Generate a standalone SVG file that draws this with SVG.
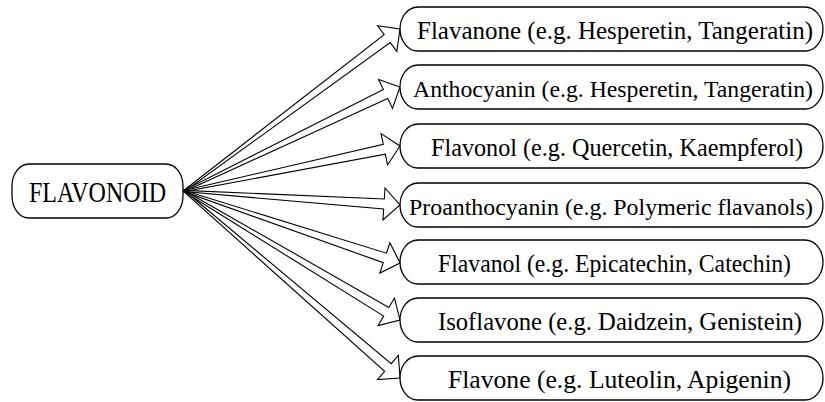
<svg xmlns="http://www.w3.org/2000/svg" width="825" height="402" viewBox="0 0 825 402">
<style>
.box{fill:#fff;stroke:#000;stroke-width:1.3}
.arr{fill:#fff;stroke:#000;stroke-width:1.1;stroke-linejoin:miter}
</style>
<rect width="825" height="402" fill="#fff"/>
<g id="connectors">
<path class="arr" transform="translate(184,191) rotate(-36.87)" d="M0,-0.6 L254,-5 L254,-16 L270,0 L254,16 L254,5 L0,0.6 Z"/>
<path class="arr" transform="translate(184,191) rotate(-25.71)" d="M0,-0.6 L223.7,-5 L223.7,-16 L239.7,0 L223.7,16 L223.7,5 L0,0.6 Z"/>
<path class="arr" transform="translate(184,191) rotate(-11.77)" d="M0,-0.6 L204.6,-5 L204.6,-16 L220.6,0 L204.6,16 L204.6,5 L0,0.6 Z"/>
<path class="arr" transform="translate(184,191) rotate(3.71)" d="M0,-0.6 L200.4,-5 L200.4,-16 L216.4,0 L200.4,16 L200.4,5 L0,0.6 Z"/>
<path class="arr" transform="translate(184,191) rotate(18.43)" d="M0,-0.6 L211.7,-5 L211.7,-16 L227.7,0 L211.7,16 L211.7,5 L0,0.6 Z"/>
<path class="arr" transform="translate(184,191) rotate(30.85)" d="M0,-0.6 L235.6,-5 L235.6,-16 L251.6,0 L235.6,16 L235.6,5 L0,0.6 Z"/>
<path class="arr" transform="translate(184,191) rotate(40.88)" d="M0,-0.6 L269.7,-5 L269.7,-16 L285.7,0 L269.7,16 L269.7,5 L0,0.6 Z"/>
</g>
<g id="flavonoid">
<rect class="box" x="12" y="164" width="171" height="54" rx="17" ry="22"/>
<text x="29" y="202" font-family="Liberation Serif" font-size="29" textLength="137" lengthAdjust="spacingAndGlyphs">FLAVONOID</text>
</g>
<g id="flavanone">
<rect class="box" x="400" y="7" width="423" height="44" rx="18" ry="22"/>
<text x="417" y="38.5" font-family="Liberation Serif" font-size="25" textLength="396" lengthAdjust="spacingAndGlyphs">Flavanone (e.g. Hesperetin, Tangeratin)</text>
</g>
<g id="anthocyanin">
<rect class="box" x="400" y="65" width="423" height="44" rx="18" ry="22"/>
<text x="413" y="96.5" font-family="Liberation Serif" font-size="24" textLength="400" lengthAdjust="spacingAndGlyphs">Anthocyanin (e.g. Hesperetin, Tangeratin)</text>
</g>
<g id="flavonol">
<rect class="box" x="400" y="124" width="423" height="44" rx="18" ry="22"/>
<text x="431" y="155.5" font-family="Liberation Serif" font-size="25" textLength="372" lengthAdjust="spacingAndGlyphs">Flavonol (e.g. Quercetin, Kaempferol)</text>
</g>
<g id="proanthocyanin">
<rect class="box" x="400" y="183" width="423" height="44" rx="18" ry="22"/>
<text x="409" y="214.5" font-family="Liberation Serif" font-size="24" textLength="404" lengthAdjust="spacingAndGlyphs">Proanthocyanin (e.g. Polymeric flavanols)</text>
</g>
<g id="flavanol">
<rect class="box" x="400" y="240" width="423" height="44" rx="18" ry="22"/>
<text x="438" y="271.5" font-family="Liberation Serif" font-size="25" textLength="353" lengthAdjust="spacingAndGlyphs">Flavanol (e.g. Epicatechin, Catechin)</text>
</g>
<g id="isoflavone">
<rect class="box" x="400" y="298" width="423" height="44" rx="18" ry="22"/>
<text x="438" y="329.5" font-family="Liberation Serif" font-size="25" textLength="364" lengthAdjust="spacingAndGlyphs">Isoflavone (e.g. Daidzein, Genistein)</text>
</g>
<g id="flavone">
<rect class="box" x="400" y="356" width="423" height="44" rx="18" ry="22"/>
<text x="448" y="387.5" font-family="Liberation Serif" font-size="25" textLength="343" lengthAdjust="spacingAndGlyphs">Flavone (e.g. Luteolin, Apigenin)</text>
</g>
</svg>
